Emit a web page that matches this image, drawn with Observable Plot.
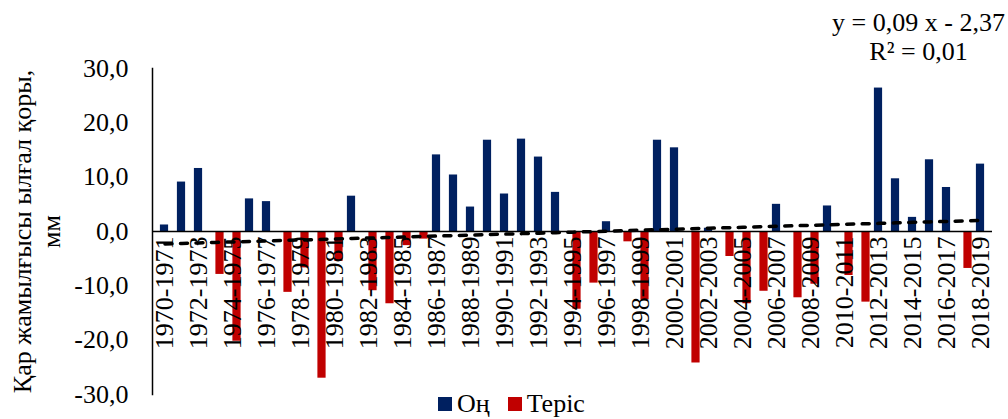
<!DOCTYPE html>
<html>
<head>
<meta charset="utf-8">
<script src="https://cdn.jsdelivr.net/npm/d3@7"></script>
<script src="https://cdn.jsdelivr.net/npm/@observablehq/plot@0.6"></script>
<style>
  body { margin: 0; background: #fff; }
  #chart { position: relative; width: 1008px; height: 419px; font-family: "Liberation Serif", "Times New Roman", serif; color: #000; }
  #legend { position: absolute; left: 438px; top: 390px; height: 27px; display: flex; align-items: center; font-size: 26px; line-height: 27px; }
  #legend .item { display: flex; align-items: center; margin-right: 18px; }
  #legend .sw { width: 14px; height: 14px; margin-right: 5px; }
</style>
</head>
<body>
<div id="chart"></div>
<script>
// Winter seasons
const seasons = [
  "1970-1971", "1971-1972", "1972-1973", "1973-1974", "1974-1975", "1975-1976", "1976-1977",
  "1977-1978", "1978-1979", "1979-1980", "1980-1981", "1981-1982", "1982-1983", "1983-1984",
  "1984-1985", "1985-1986", "1986-1987", "1987-1988", "1988-1989", "1989-1990", "1990-1991",
  "1991-1992", "1992-1993", "1993-1994", "1994-1995", "1995-1996", "1996-1997", "1997-1998",
  "1998-1999", "1999-2000", "2000-2001", "2001-2002", "2002-2003", "2003-2004", "2004-2005",
  "2005-2006", "2006-2007", "2007-2008", "2008-2009", "2009-2010", "2010-2011", "2011-2012",
  "2012-2013", "2013-2014", "2014-2015", "2015-2016", "2016-2017", "2017-2018", "2018-2019"
];

// Snow cover water equivalent anomaly, mm
const values = [
  1.2, 9.1, 11.6, -7.9, -20.2, 6.0, 5.5,
  -11.2, -6.7, -27.0, -5.5, 6.5, -10.9, -13.3,
  -2.6, -1.4, 14.1, 10.4, 4.5, 16.8, 6.9,
  17.0, 13.7, 7.2, -14.3, -9.5, 1.8, -1.9,
  -12.6, 16.8, 15.4, -24.2, 0.6, -4.6, -13.3,
  -11.0, 5.0, -12.2, -9.7, 4.7, -8.1, -13.0,
  26.4, 9.7, 2.6, 13.2, 8.1, -6.8, 12.4
];

// Series names and colours
const seriesNames = ["Оң", "Теріс"];
const seriesColors = ["#002060", "#C00000"];

// Category labels shown on the axis (every second season)
const tickLabels = [
  "1970-1971", "1972-1973", "1974-1975", "1976-1977", "1978-1979", "1980-1981", "1982-1983",
  "1984-1985", "1986-1987", "1988-1989", "1990-1991", "1992-1993", "1994-1995", "1996-1997",
  "1998-1999", "2000-2001", "2002-2003", "2004-2005", "2006-2007", "2008-2009", "2010-2011",
  "2012-2013", "2014-2015", "2016-2017", "2018-2019"
];

const yTicks = [-30, -20, -10, 0, 10, 20, 30];

// Linear trend
const trendSlope = 0.09;
const trendIntercept = -2.37;
const trendR2 = 0.01;

const comma = (v, digits) => v.toFixed(digits).replace(".", ",");

const rows = seasons.map((season, i) => ({season, value: values[i], index: i + 1}));
const positiveRows = rows.filter(d => d.value >= 0);
const negativeRows = rows.filter(d => d.value < 0);
const trendRows = rows.map(d => ({season: d.season, value: trendSlope * d.index + trendIntercept}));

const equation =
  `y = ${comma(trendSlope, 2)} x ${trendIntercept < 0 ? "-" : "+"} ${comma(Math.abs(trendIntercept), 2)}\n` +
  `R² = ${comma(trendR2, 2)}`;

const font = '"Liberation Serif", "Times New Roman", serif';

const chart = Plot.plot({
  width: 1008,
  height: 419,
  marginLeft: 152,
  marginRight: 16,
  marginTop: 68,
  marginBottom: 25,
  style: {fontFamily: font, fontSize: "26px", color: "#000", background: "transparent", overflow: "visible"},
  x: {type: "band", domain: seasons, padding: 0, axis: null},
  y: {domain: [-30, 30]},
  marks: [
    Plot.axisY({ticks: yTicks, tickFormat: d => comma(d, 1), tickSize: 0, tickPadding: 24, label: null, fontSize: 26}),
    Plot.frame({anchor: "left", stroke: "#000", strokeWidth: 1.5}),
    Plot.barY(positiveRows, {x: "season", y: "value", fill: seriesColors[0], insetLeft: 4.4, insetRight: 4.4, dx: -0.5}),
    Plot.barY(negativeRows, {x: "season", y: "value", fill: seriesColors[1], insetLeft: 4.4, insetRight: 4.4, dx: 4}),
    Plot.ruleY([0], {stroke: "#000", strokeWidth: 1.5}),
    Plot.line(trendRows, {x: "season", y: "value", stroke: "#000", strokeWidth: 3.5, strokeDasharray: "7,8.5", strokeLinecap: "round"}),
    Plot.text(tickLabels, {x: d => d, y: 0, rotate: -90, textAnchor: "end", lineAnchor: "middle", dy: 5, fontSize: 26, fill: "#000"}),
    Plot.text([equation], {frameAnchor: "top-right", textAnchor: "middle", lineAnchor: "bottom", lineHeight: 1.115, dx: -74, dy: -9, fontSize: 26, fill: "#000"}),
    Plot.text(["Қар жамылғысы ылғал қоры,\nмм"], {frameAnchor: "left", rotate: -90, textAnchor: "middle", lineAnchor: "middle", lineHeight: 1.08, dx: -116, fontSize: 26, fill: "#000"})
  ]
});

const container = document.getElementById("chart");
container.appendChild(chart);

// Legend below the bars
const legend = document.createElement("div");
legend.id = "legend";
seriesNames.forEach((name, i) => {
  const item = document.createElement("span");
  item.className = "item";
  const sw = document.createElement("span");
  sw.className = "sw";
  sw.style.background = seriesColors[i];
  item.appendChild(sw);
  item.appendChild(document.createTextNode(name));
  legend.appendChild(item);
});
container.appendChild(legend);
</script>
</body>
</html>
